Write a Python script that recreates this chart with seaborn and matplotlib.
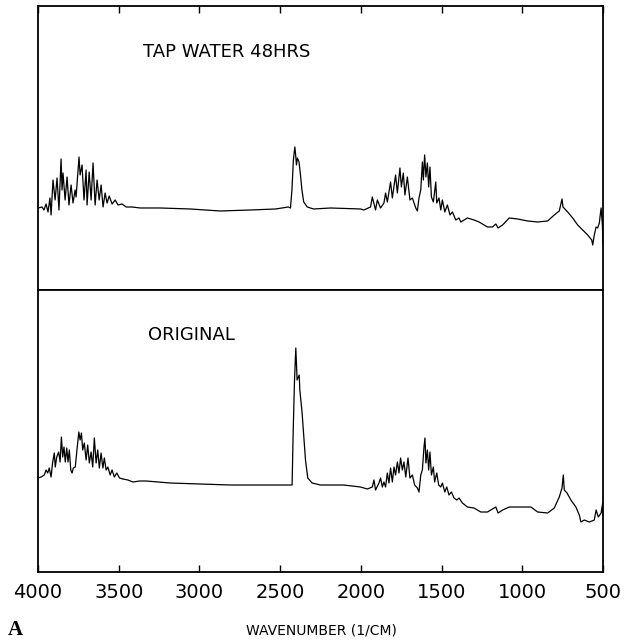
import matplotlib
matplotlib.use("Agg")
import matplotlib.pyplot as plt
import seaborn as sns
import pandas as pd

# ---- data (intensity in arbitrary units) ----
top_wn = [4000, 3975, 3963, 3950, 3938, 3926, 3919, 3907, 3894, 3882, 3870, 3857, 3851, 3845,
          3832, 3820, 3808, 3795, 3783, 3770, 3764, 3752, 3746, 3739, 3727, 3715, 3702, 3696,
          3683, 3671, 3659, 3646, 3634, 3621, 3609, 3597, 3584, 3572, 3559, 3541, 3522, 3504,
          3479, 3454, 3417, 3367, 3243, 3057, 2871, 2684, 2529, 2449, 2436, 2427, 2418, 2409,
          2404, 2399, 2393, 2383, 2374, 2365, 2354, 2332, 2293, 2188, 2002, 1981, 1940, 1929,
          1909, 1898, 1878, 1857, 1847, 1836, 1816, 1805, 1785, 1774, 1758, 1749, 1737, 1727,
          1712, 1696, 1681, 1660, 1650, 1640, 1629, 1619, 1613, 1605, 1597, 1588, 1580, 1572,
          1563, 1551, 1536, 1530, 1516, 1505, 1495, 1480, 1464, 1448, 1433, 1412, 1392, 1381,
          1340, 1299, 1268, 1216, 1185, 1164, 1150, 1122, 1081, 1029, 967, 905, 843, 802, 771,
          754, 748, 719, 688, 657, 626, 595, 570, 564, 554, 543, 533, 523, 512, 504, 500]
top_val = [82, 83, 80, 86, 78, 92, 75, 110, 90, 112, 80, 131, 100, 117,
           90, 113, 85, 105, 87, 100, 93, 120, 133, 115, 125, 90, 120, 85,
           118, 90, 127, 85, 110, 90, 105, 83, 97, 87, 94, 86, 90, 85,
           86, 83, 83, 82, 82, 81, 79, 80, 81, 83, 82, 100, 130, 143,
           135, 125, 132, 128, 115, 100, 88, 83, 81, 82, 81, 80, 83, 93,
           80, 90, 82, 87, 97, 88, 108, 92, 115, 97, 122, 103, 117, 95,
           113, 90, 92, 82, 79, 92, 100, 128, 110, 135, 113, 127, 103, 123,
           93, 88, 108, 87, 92, 80, 90, 78, 85, 75, 78, 70, 72, 68,
           72, 70, 68, 63, 63, 66, 62, 65, 72, 71, 69, 68, 69, 75, 79,
           91, 83, 78, 72, 65, 60, 55, 50, 45, 55, 63, 62, 67, 82, 65, 45]

bot_wn = [4000, 3981, 3961, 3950, 3940, 3930, 3919, 3909, 3899, 3893, 3884, 3872, 3863, 3855,
          3847, 3839, 3831, 3822, 3814, 3806, 3797, 3789, 3781, 3769, 3760, 3747, 3739, 3731,
          3723, 3713, 3702, 3692, 3682, 3671, 3661, 3651, 3640, 3630, 3620, 3609, 3598, 3589,
          3578, 3567, 3553, 3541, 3527, 3512, 3495, 3474, 3443, 3412, 3371, 3330, 3181, 2808,
          2461, 2426, 2419, 2411, 2403, 2395, 2382, 2378, 2370, 2364, 2343, 2329, 2302, 2250,
          2107, 2002, 1960, 1929, 1919, 1909, 1888, 1878, 1867, 1857, 1847, 1836, 1826, 1816,
          1805, 1795, 1785, 1774, 1764, 1754, 1743, 1733, 1722, 1708, 1696, 1681, 1667, 1650,
          1640, 1629, 1619, 1609, 1603, 1597, 1588, 1580, 1572, 1563, 1551, 1543, 1530, 1518,
          1505, 1495, 1480, 1468, 1454, 1439, 1423, 1406, 1392, 1371, 1340, 1299, 1257, 1216,
          1175, 1164, 1150, 1122, 1081, 1029, 988, 947, 905, 843, 802, 771, 754, 746, 740, 723,
          699, 668, 647, 637, 616, 585, 554, 543, 529, 512, 502, 500]
bot_val = [94, 95, 97, 102, 99, 104, 95, 110, 119, 105, 115, 120, 110, 135,
           115, 125, 110, 124, 110, 122, 102, 99, 104, 105, 120, 140, 132, 139,
           122, 129, 112, 127, 109, 120, 105, 134, 109, 122, 104, 119, 104, 114,
           102, 105, 97, 102, 95, 99, 94, 93, 92, 90, 91, 91, 89, 87,
           87, 87, 142, 192, 224, 192, 197, 182, 169, 159, 112, 94, 89, 87,
           87, 85, 83, 85, 92, 82, 89, 94, 85, 90, 85, 99, 89, 104,
           90, 105, 97, 110, 99, 114, 102, 110, 95, 114, 94, 97, 87, 84,
           80, 97, 102, 125, 134, 109, 122, 102, 120, 97, 105, 90, 99, 87,
           85, 89, 80, 85, 77, 80, 74, 72, 74, 69, 65, 64, 60, 60,
           64, 65, 59, 62, 65, 65, 65, 65, 60, 59, 64, 75, 84, 97, 82, 79,
           72, 65, 57, 50, 52, 50, 52, 62, 55, 59, 69, 57]

panel_labels = ["TAP WATER 48HRS", "ORIGINAL"]
xticks = [4000, 3500, 3000, 2500, 2000, 1500, 1000, 500]

# ---- figure ----
sns.set_style("white")
plt.rcParams['font.family'] = ['DejaVu Sans']
plt.rcParams['text.color'] = 'black'
plt.rcParams['xtick.color'] = 'black'
plt.rcParams['xtick.labelcolor'] = 'black'

fig = plt.figure(figsize=(6.29, 6.43), dpi=100)
ax_top = fig.add_axes([0.0604, 0.549, 0.8983, 0.4417])
ax_bot = fig.add_axes([0.0604, 0.1104, 0.8983, 0.4386])

top_df = pd.DataFrame({"wn": top_wn, "val": top_val})
bot_df = pd.DataFrame({"wn": bot_wn, "val": bot_val})

sns.lineplot(data=top_df, x="wn", y="val", ax=ax_top, color="black", lw=0.9,
             estimator=None, sort=False)
sns.lineplot(data=bot_df, x="wn", y="val", ax=ax_bot, color="black", lw=0.9,
             estimator=None, sort=False)

for ax in (ax_top, ax_bot):
    ax.set_xlim(4000, 500)
    ax.set_xlabel("")
    ax.set_ylabel("")
    ax.set_yticks([])
    for s in ax.spines.values():
        s.set_visible(True)
        s.set_color("black")
        s.set_linewidth(1.3)

ax_top.set_ylim(0, 284)
ax_bot.set_ylim(0, 282)

ax_top.set_xticks(xticks)
ax_top.tick_params(axis="x", which="both", direction="in", top=True, bottom=False,
                   labeltop=False, labelbottom=False, length=5, width=1, color="black")

ax_bot.set_xticks(xticks)
ax_bot.set_xticklabels([str(t) for t in xticks])
ax_bot.tick_params(axis="x", which="both", direction="in", top=False, bottom=True,
                   labelbottom=True, length=5, width=1, labelsize=14, pad=8,
                   color="black", labelcolor="black")

ax_top.text(0.186, 0.838, panel_labels[0], transform=ax_top.transAxes,
            ha="left", va="center", fontsize=13, color="black")
ax_bot.text(0.195, 0.840, panel_labels[1], transform=ax_bot.transAxes,
            ha="left", va="center", fontsize=13, color="black")

fig.text(0.511, 1 - 630 / 643, "WAVENUMBER (1/CM)", ha="center", va="center",
         fontsize=10, color="black")
fig.text(0.013, 1 - 630 / 643, "A", ha="left", va="center", fontsize=15,
         fontweight="bold", family=["Liberation Serif", "DejaVu Serif"], color="black")

fig.savefig("out.png", dpi=100, facecolor="white")
